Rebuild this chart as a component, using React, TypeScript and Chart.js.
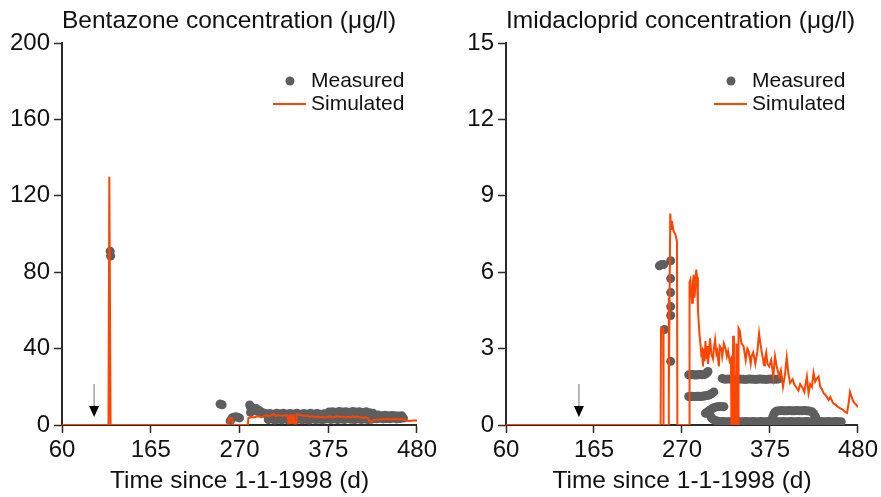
import React, { useEffect, useRef } from 'react';
import { Chart, registerables } from 'chart.js';

Chart.register(...registerables);

type Pt = [number, number];

const FONT = "'Liberation Sans', Arial, Helvetica, sans-serif";
const SIM_COLOR = '#FF4500';
const MEAS_COLOR = '#5E5E5E';
const AXIS_COLOR = '#2b2b2b';
const TEXT_COLOR = '#111111';

const xTitle = 'Time since 1-1-1998 (d)';
const legendLabels = ['Measured', 'Simulated'];
const xMin = 60;
const xMax = 480;
const xStep = 105;

const bentazoneTitle = 'Bentazone concentration (\u03bcg/l)';
const bentazoneYMax = 200;
const bentazoneYStep = 40;
const bentazoneArrowDay = 98;

const imidaclopridTitle = 'Imidacloprid concentration (\u03bcg/l)';
const imidaclopridYMax = 15;
const imidaclopridYStep = 3;
const imidaclopridArrowDay = 147;

const bentazoneSimulated: Pt[] = [
  [60, 0], [115, 0], [116, 130], [117.5, 0], [256.5, 0], [258, 3.5], [261, 3.7], [262.5, 0],
  [280, 0], [280.5, 3.6], [282, 3.8], [284, 4.2], [287, 3.9], [290, 4.4], [293, 4.6], [296, 4.0],
  [299, 4.8], [302, 5.1], [305, 4.5], [308, 5.3], [311, 5.7], [313, 4.6], [315, 5.2], [318, 5.0],
  [321, 4.9], [324, 5.1], [327, 5.0], [328, 1.0], [329.5, 1.0], [330, 5.5], [331, 1.0], [332, 5.5],
  [333, 1.0], [334, 5.6], [335, 1.0], [337, 1.0], [337.5, 5.6], [341, 5.4], [344, 5.0], [347, 4.6],
  [350, 4.8], [353, 4.3], [356, 4.6], [359, 4.2], [362, 4.4], [365, 4.1], [368, 4.3], [371, 3.9],
  [374, 4.2], [377, 4.5], [380, 4.0], [383, 4.3], [386, 4.6], [389, 4.2], [392, 4.4], [395, 4.0],
  [398, 4.3], [401, 4.1], [404, 4.5], [407, 4.2], [410, 4.4], [413, 4.0], [416, 3.8], [419, 4.1],
  [422, 3.5], [424, 1.8], [427, 2.2], [430, 2.6], [433, 2.8], [436, 2.9], [440, 3.0], [445, 3.1],
  [450, 3.0], [455, 3.1], [460, 3.0], [465, 2.9], [468, 2.2], [471, 2.1], [475, 2.4], [480, 2.3],
];

const bentazoneMeasured: Pt[] = [
  [117, 91], [117.5, 88.5], [247, 11], [249.5, 10.6],
  [259, 2.0], [261, 3.6], [263, 4.1], [265.5, 4.3], [268, 4.0], [270, 3.7],
  [282, 10.5], [283.5, 9.2], [283, 6.6], [286, 8.8], [288, 7.4], [290, 8.6], [292, 7.0], [294, 7.4],
  [297, 6.6], [300, 6.0],
  [302, 5.8], [304, 2.8], [306, 6.0], [308, 3.2], [310, 5.6], [312, 2.6], [314, 6.2], [316, 3.0],
  [318, 5.9], [320, 2.7], [322, 6.1], [324, 3.1], [326, 5.7], [328, 2.6], [330, 6.0], [332, 2.9],
  [334, 5.8], [336, 2.5], [338, 6.2], [340, 3.1], [342, 5.6], [344, 2.7], [346, 6.0], [348, 3.0],
  [350, 5.7], [352, 2.6], [354, 6.1], [356, 3.2], [358, 5.8], [360, 2.8], [362, 6.0], [364, 3.0],
  [366, 5.6], [368, 2.7], [370, 5.9], [372, 3.1], [374, 6.0],
  [376, 6.8], [378, 2.9], [380, 7.0], [382, 3.2], [384, 6.7], [386, 2.8], [388, 7.1], [390, 3.1],
  [392, 6.8], [394, 2.9], [396, 7.0], [398, 3.3], [400, 6.7], [402, 3.0], [404, 7.1], [406, 2.8],
  [408, 6.8], [410, 3.2], [412, 6.9], [414, 2.9], [416, 6.6], [418, 3.1], [420, 6.9], [422, 2.8],
  [424, 6.4], [426, 3.0], [428, 6.2],
  [430, 5.0], [432, 3.3], [434, 5.2], [436, 3.5], [438, 4.9], [440, 3.2], [442, 5.1], [444, 3.4],
  [446, 4.8], [448, 3.3], [450, 5.0], [452, 3.5], [454, 4.9], [456, 3.2], [458, 4.7], [460, 3.4],
  [462, 4.8], [464, 3.6],
];

const imidaclopridSimulated: Pt[] = [
  [60, 0], [244.5, 0], [245, 3.8], [247.5, 3.8], [248, 0], [253.5, 0], [254, 5.0], [254.5, 1.0],
  [256, 8.3], [257, 7.7], [258, 8.0], [260, 7.6], [262, 7.5], [264, 7.2], [264.5, 0],
  [278.5, 0], [279, 5.6], [280, 5.7], [281, 5.2], [282, 4.8], [283, 5.6], [284, 5.9], [285, 5.0],
  [286, 5.5], [287, 6.1], [288, 5.8], [289, 4.6], [290, 4.0], [291, 3.5], [292, 3.2], [293, 2.8],
  [294, 2.9], [295, 2.3], [296, 3.0], [297, 2.5], [298, 3.3], [299, 2.6], [300, 3.1], [301, 2.4],
  [302, 2.7], [303.5, 3.4], [305, 2.8], [307, 2.6], [308, 3.0], [309.5, 3.35], [311, 2.8], [312, 2.9],
  [314, 2.3], [315, 3.1], [317, 3.0], [318, 2.7], [320, 3.2], [322, 3.0], [323.5, 2.7], [325, 2.9],
  [327, 2.5], [328.5, 2.6], [329, 0], [330.5, 0], [331, 3.5], [332, 0], [334, 0], [335, 3.2],
  [336, 0], [337, 0], [337.5, 3.8], [339, 3.7], [341, 3.2], [343.5, 3.1], [346, 2.55], [348, 3.0],
  [349.5, 2.9], [352, 2.4], [353, 2.7], [355, 2.85], [357.5, 2.4], [360, 2.9], [362, 3.6], [363.5, 3.2],
  [365, 2.9], [368, 2.35], [369, 2.6], [370.5, 2.85], [372, 2.4], [374, 2.3], [376.5, 2.55], [379, 1.9],
  [381, 2.7], [383, 2.3], [386, 1.9], [388, 2.15], [390.5, 1.5], [393, 2.0], [395, 2.65], [397, 2.0],
  [399, 1.65], [402, 1.8], [404, 1.6], [406, 1.5], [409, 1.35], [411, 1.6], [414, 1.45], [416, 1.3],
  [419, 1.9], [421, 1.25], [423, 1.6], [425, 1.5], [427, 2.05], [429, 1.7], [430.5, 1.8], [433, 1.9],
  [435, 1.5], [437, 1.4], [439, 1.25], [442, 1.15], [445, 0.98], [447, 1.1], [450.5, 0.85], [453, 0.8],
  [456.5, 0.7], [459, 0.65], [462, 0.6], [465, 0.5], [467, 0.47], [469, 0.9], [470.5, 1.3], [472, 1.15],
  [474, 0.95], [476, 0.85], [478, 0.8], [480, 0.7],
];

const imidaclopridMeasured: Pt[] = [
  [243, 6.25], [245.5, 6.3], [248, 6.3], [249, 3.75], [256.5, 6.45], [256.5, 5.75], [256.5, 5.2],
  [256.5, 4.65], [256.5, 4.3], [256.5, 2.5],
  [278, 1.97], [280, 1.97], [282, 1.98], [284, 1.97], [286, 1.96], [288, 1.97], [290, 1.97],
  [292, 1.98], [294, 1.97], [296, 1.98], [298, 2.0], [300, 2.05], [301, 2.1],
  [278, 1.12], [280, 1.12], [282, 1.13], [284, 1.12], [286, 1.12], [288, 1.13], [290, 1.13],
  [292, 1.12], [294, 1.13], [296, 1.14], [298, 1.15], [300, 1.16], [302, 1.18], [304, 1.2],
  [306, 1.25], [308, 1.3],
  [318, 1.83], [320.5, 1.8], [323, 1.8], [325.5, 1.81], [328, 1.8], [330.5, 1.8], [333, 1.79],
  [335.5, 1.8], [338, 1.81], [340.5, 1.8], [343, 1.8], [345.5, 1.79], [348, 1.8], [350.5, 1.81],
  [353, 1.8], [355.5, 1.8], [358, 1.79], [360.5, 1.8], [363, 1.81], [365.5, 1.8], [368, 1.8],
  [370.5, 1.79], [373, 1.8], [375.5, 1.81], [378, 1.8], [380.5, 1.8], [383, 1.8], [385.5, 1.81],
  [298, 0.46], [300, 0.5], [302, 0.55], [304, 0.6], [306, 0.64], [308, 0.68], [310, 0.7],
  [312, 0.72], [314, 0.72], [316, 0.73], [318, 0.72], [320, 0.72],
  [304, 0.35], [306, 0.25], [308, 0.2],
  [310, 0.18], [313, 0.15], [316, 0.13], [319, 0.14], [322, 0.13], [325, 0.13], [328, 0.14],
  [331, 0.13], [334, 0.13], [337, 0.14], [340, 0.13], [343, 0.13], [346, 0.14], [349, 0.13],
  [352, 0.13], [355, 0.14], [358, 0.13], [361, 0.13], [364, 0.14], [367, 0.13], [370, 0.13],
  [373, 0.14], [376, 0.13], [379, 0.13], [382, 0.14], [385, 0.13], [388, 0.13], [391, 0.14],
  [394, 0.13], [397, 0.13], [400, 0.14], [403, 0.13], [406, 0.13], [409, 0.14], [412, 0.13],
  [415, 0.13], [418, 0.14], [421, 0.13], [424, 0.13], [427, 0.14], [430, 0.13], [433, 0.13],
  [436, 0.14], [439, 0.13], [442, 0.13], [445, 0.14], [448, 0.13], [451, 0.13], [454, 0.14],
  [457, 0.13], [460, 0.13],
  [378, 0.3], [379.5, 0.42], [381, 0.5], [383, 0.55], [386, 0.56], [389, 0.57], [392, 0.56],
  [395, 0.56], [398, 0.57], [401, 0.56], [404, 0.56], [407, 0.57], [410, 0.56], [413, 0.56],
  [416, 0.57], [419, 0.56], [422, 0.55], [425, 0.52], [427, 0.45], [429, 0.35], [430, 0.25],
];

const annotPlugin = {
  id: 'annot',
  afterDatasetsDraw(chart: any, _args: any, opts: any) {
    const { ctx, chartArea, scales } = chart;
    const ax = scales.x.getPixelForValue(opts.arrowDay);
    const b = chartArea.bottom;
    const t = chartArea.top;
    const r = chartArea.right;
    ctx.save();
    ctx.strokeStyle = '#a0a0a0';
    ctx.lineWidth = 1.5;
    ctx.beginPath();
    ctx.moveTo(ax, b - 41);
    ctx.lineTo(ax, b - 18);
    ctx.stroke();
    ctx.fillStyle = '#000';
    ctx.beginPath();
    ctx.moveTo(ax - 5, b - 19);
    ctx.lineTo(ax + 5, b - 19);
    ctx.lineTo(ax, b - 8);
    ctx.closePath();
    ctx.fill();

    ctx.fillStyle = MEAS_COLOR;
    ctx.beginPath();
    ctx.arc(r - 127, t + 38, 4.5, 0, Math.PI * 2);
    ctx.fill();
    ctx.strokeStyle = SIM_COLOR;
    ctx.lineWidth = 2;
    ctx.beginPath();
    ctx.moveTo(r - 144, t + 61);
    ctx.lineTo(r - 111, t + 61);
    ctx.stroke();
    ctx.fillStyle = TEXT_COLOR;
    ctx.font = `21px ${FONT}`;
    ctx.textAlign = 'left';
    ctx.textBaseline = 'middle';
    ctx.fillText(legendLabels[0], r - 106, t + 38);
    ctx.fillText(legendLabels[1], r - 106, t + 61);
    ctx.restore();
  },
};

interface PanelProps {
  title: string;
  yMax: number;
  yStep: number;
  sim: Pt[];
  meas: Pt[];
  arrowDay: number;
  left: number;
  width: number;
  yAxisWidth: number;
  padRight: number;
}

function Panel(p: PanelProps) {
  const ref = useRef<HTMLCanvasElement | null>(null);
  useEffect(() => {
    if (!ref.current) return;
    const chart = new Chart(ref.current, {
      type: 'line',
      data: {
        datasets: [
          {
            label: legendLabels[1],
            data: p.sim.map(([x, y]) => ({ x, y })),
            borderColor: SIM_COLOR,
            backgroundColor: SIM_COLOR,
            borderWidth: 2,
            pointRadius: 0,
            tension: 0,
            fill: false,
            order: 0,
          },
          {
            label: legendLabels[0],
            data: p.meas.map(([x, y]) => ({ x, y })),
            showLine: false,
            pointRadius: 4.5,
            pointBorderWidth: 0,
            pointBackgroundColor: MEAS_COLOR,
            backgroundColor: MEAS_COLOR,
            borderColor: MEAS_COLOR,
            order: 1,
          },
        ],
      },
      options: {
        responsive: false,
        animation: false,
        events: [],
        layout: { padding: { left: 0, right: p.padRight, top: 0, bottom: 0 } },
        plugins: {
          legend: { display: false },
          tooltip: { enabled: false },
          title: {
            display: true,
            text: p.title,
            align: 'start',
            fullSize: false,
            color: TEXT_COLOR,
            font: { family: FONT, size: 24.5, weight: 'normal', lineHeight: 1.2 },
            padding: { top: 6.6, bottom: 7 },
          },
          annot: { arrowDay: p.arrowDay },
        } as any,
        scales: {
          x: {
            type: 'linear',
            min: xMin,
            max: xMax,
            ticks: {
              stepSize: xStep,
              autoSkip: false,
              maxRotation: 0,
              padding: 3,
              color: TEXT_COLOR,
              font: { family: FONT, size: 24 },
            },
            grid: {
              display: true,
              drawOnChartArea: false,
              drawTicks: true,
              tickLength: 8,
              tickColor: AXIS_COLOR,
              tickWidth: 1.5,
            },
            border: { display: true, color: AXIS_COLOR, width: 2 },
            title: {
              display: true,
              text: xTitle,
              color: TEXT_COLOR,
              font: { family: FONT, size: 24.5, lineHeight: 1.2 },
              padding: { top: 0, bottom: 1 },
            },
            afterFit(s: any) {
              s.height = 72;
            },
          },
          y: {
            type: 'linear',
            min: 0,
            max: p.yMax,
            ticks: {
              stepSize: p.yStep,
              padding: 4,
              color: TEXT_COLOR,
              font: { family: FONT, size: 24 },
            },
            grid: {
              display: true,
              drawOnChartArea: false,
              drawTicks: true,
              tickLength: 8,
              tickColor: AXIS_COLOR,
              tickWidth: 1.5,
            },
            border: { display: true, color: AXIS_COLOR, width: 2 },
            afterFit(s: any) {
              s.width = p.yAxisWidth;
            },
          },
        } as any,
      },
      plugins: [annotPlugin as any],
    });
    return () => chart.destroy();
  }, []);
  return (
    <canvas
      ref={ref}
      width={p.width}
      height={497}
      style={{ position: 'absolute', left: p.left, top: 0, display: 'block' }}
    />
  );
}

export default function App() {
  return (
    <div style={{ position: 'absolute', left: 0, top: 0, width: 881, height: 497, background: '#fff' }}>
      <Panel
        title={bentazoneTitle}
        yMax={bentazoneYMax}
        yStep={bentazoneYStep}
        sim={bentazoneSimulated}
        meas={bentazoneMeasured}
        arrowDay={bentazoneArrowDay}
        left={0}
        width={440}
        yAxisWidth={62}
        padRight={21}
      />
      <Panel
        title={imidaclopridTitle}
        yMax={imidaclopridYMax}
        yStep={imidaclopridYStep}
        sim={imidaclopridSimulated}
        meas={imidaclopridMeasured}
        arrowDay={imidaclopridArrowDay}
        left={440}
        width={441}
        yAxisWidth={66}
        padRight={18}
      />
    </div>
  );
}
